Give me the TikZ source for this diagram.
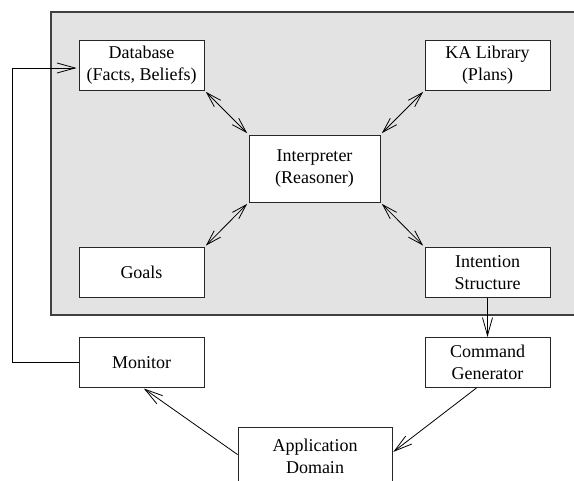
\documentclass[tikz,border=0pt]{standalone}
\usepackage{fontspec}
\setmainfont{Liberation Serif}
\usetikzlibrary{arrows.meta}
\begin{document}
\begin{tikzpicture}[x=1pt,y=-1pt,
  box/.style={draw=black!85,line width=0.9pt,fill=white,minimum width=125pt,minimum height=50pt,inner sep=0pt,align=center,font=\fontsize{18}{22}\selectfont},
  conn/.style={line width=0.8pt,black},
  one/.style={conn,-{Straight Barb[length=18pt,width=10pt,line width=0.8pt]}},
  two/.style={conn,{Straight Barb[length=15pt,width=9pt,line width=0.8pt]}-{Straight Barb[length=15pt,width=9pt,line width=0.8pt]},shorten <=2pt,shorten >=2pt}]
\useasboundingbox (0,0) rectangle (574,481);
\clip (0,0) rectangle (574,481);
\fill[white] (0,0) rectangle (574,481);
\draw[fill=black!11,draw=black!75,line width=1.1pt] (51,12) rectangle (576,315);
\node[box] (db) at (141.5,65) {Database\\(Facts, Beliefs)};
\node[box] (ka) at (487.5,65) {KA Library\\(Plans)};
\node[box,minimum width=131pt,minimum height=67pt] (interp) at (314.5,168.5) {Interpreter\\(Reasoner)};
\node[box] (goals) at (141.5,272.5) {Goals};
\node[box] (intent) at (487.5,272.5) {Intention\\Structure};
\node[box] (monitor) at (141.5,362.5) {Monitor};
\node[box] (cmd) at (487.5,362.5) {Command\\Generator};
\node[box,minimum width=154pt,minimum height=58pt] (app) at (315,456) {Application\\Domain};
\coordinate (fb) at (12,0);
\draw[two] (db.south east) -- (interp.north west);
\draw[two] (ka.south west) -- (interp.north east);
\draw[two] (goals.north east) -- (interp.south west);
\draw[two] (intent.north west) -- (interp.south east);
\draw[one] (intent.south) -- (cmd.north);
\draw[one,shorten >=1pt] ([xshift=-11pt]cmd.south) -- ([yshift=-26pt]app.north east);
\draw[one,shorten >=1pt] ([yshift=-28pt]app.north west) -- ([xshift=1.5pt]monitor.south);
\draw[one,shorten >=2pt] (monitor.west) -- (monitor.west -| fb) |- ([yshift=-3pt]db.west);
\end{tikzpicture}
\end{document}
